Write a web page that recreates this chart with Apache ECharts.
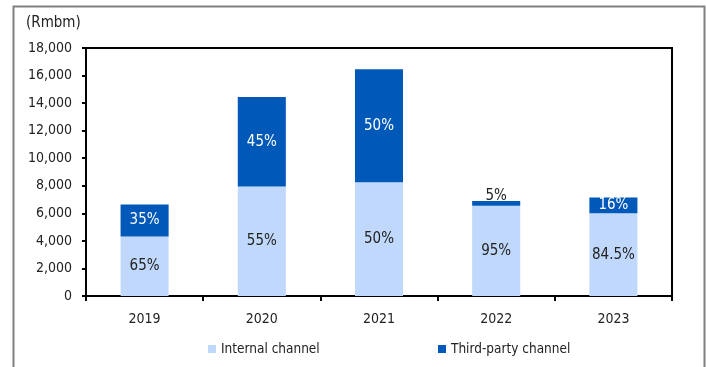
<!DOCTYPE html>
<html>
<head>
<meta charset="utf-8">
<script src="https://cdn.jsdelivr.net/npm/echarts@6/dist/echarts.min.js"></script>
<style>html,body{margin:0;padding:0;background:#fff}#c{width:706px;height:367px}</style>
</head>
<body>
<div id="c"></div>
<script>
var categories = ['2019', '2020', '2021', '2022', '2023'];
var internalValues = [4320, 7950, 8250, 6550, 6000];
var thirdPartyValues = [2330, 6500, 8200, 350, 1150];
var internalLabels = ['65%', '55%', '50%', '95%', '84.5%'];
var thirdPartyLabels = ['35%', '45%', '50%', '5%', '16%'];
var seriesNames = ['Internal channel', 'Third-party channel'];

var FONT = "'Liberation Sans Narrow', 'Arial Narrow', 'DejaVu Sans Condensed', sans-serif";
var DARK = '#0058B8';
var LIGHT = '#BFD8FB';
var TXT = '#222';

var chart = echarts.init(document.getElementById('c'));

var thirdData = thirdPartyValues.map(function (v) {
  var d = { value: v };
  if (v < 600) {
    d.label = { position: 'top', distance: -3, color: TXT };
  }
  return d;
});

function legendAt(left, name) {
  return {
    top: 337, left: left, itemWidth: 8, itemHeight: 8, icon: 'rect', itemGap: 4,
    textStyle: { fontFamily: FONT, fontSize: 13.5, color: TXT },
    data: [name]
  };
}

chart.setOption({
  animation: false,
  backgroundColor: '#fff',
  textStyle: { fontFamily: FONT },
  graphic: [
    { type: 'rect', left: 11, top: 4, shape: { width: 691, height: 380 }, style: { fill: 'none', stroke: '#808080', lineWidth: 2 }, silent: true },
    { type: 'text', left: 26, top: 16, style: { text: '(Rmbm)', font: '15px ' + FONT, fill: TXT } }
  ],
  grid: { left: 86, top: 48, right: 34, bottom: 71, show: true, borderColor: '#000', borderWidth: 2, backgroundColor: 'transparent' },
  legend: [legendAt(203, seriesNames[0]), legendAt(433, seriesNames[1])],
  xAxis: {
    type: 'category',
    data: categories,
    boundaryGap: true,
    axisLine: { lineStyle: { color: '#000', width: 2 } },
    axisTick: { show: true, length: 5, lineStyle: { color: '#000', width: 2 } },
    axisLabel: { fontFamily: FONT, fontSize: 14, color: TXT, margin: 16 }
  },
  yAxis: {
    type: 'value',
    min: 0, max: 18000, interval: 2000,
    splitLine: { show: false },
    axisLine: { show: true, lineStyle: { color: '#000', width: 2 } },
    axisTick: { show: true, length: 4, lineStyle: { color: '#000', width: 2 } },
    axisLabel: {
      fontFamily: FONT, fontSize: 14, color: TXT, margin: 14,
      formatter: function (v) { return v.toLocaleString('en-US'); }
    }
  },
  series: [
    {
      name: seriesNames[0], type: 'bar', stack: 'total', barWidth: '41%',
      data: internalValues,
      itemStyle: { color: LIGHT },
      label: { show: true, position: 'inside', fontFamily: FONT, fontSize: 15, color: TXT,
        formatter: function (p) { return internalLabels[p.dataIndex]; } }
    },
    {
      name: seriesNames[1], type: 'bar', stack: 'total', barWidth: '41%',
      data: thirdData,
      itemStyle: { color: DARK },
      label: { show: true, position: 'inside', fontFamily: FONT, fontSize: 15, color: '#fff',
        formatter: function (p) { return thirdPartyLabels[p.dataIndex]; } }
    }
  ]
});
</script>
</body>
</html>
